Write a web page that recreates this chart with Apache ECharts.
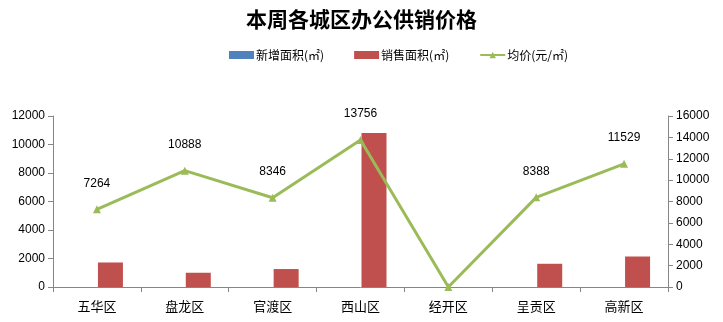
<!DOCTYPE html>
<html>
<head>
<meta charset="utf-8">
<script src="https://cdn.jsdelivr.net/npm/echarts@6/dist/echarts.min.js"></script>
<style>html,body{margin:0;padding:0;background:#fff}#c{width:723px;height:322px}</style>
</head>
<body>
<div id="c"></div>
<script>
const categories = ['五华区','盘龙区','官渡区','西山区','经开区','呈贡区','高新区'];
const newArea = [0, 0, 0, 0, 0, 0, 0];
const soldArea = [1720, 1000, 1260, 10800, 0, 1630, 2140];
const avgPrice = [7264, 10888, 8346, 13756, 0, 8388, 11529];
const leftTicks = {min: 0, max: 12000, interval: 2000};
const rightTicks = {min: 0, max: 16000, interval: 2000};

const font = '"Noto Sans CJK SC", "Liberation Sans", sans-serif';
const numFont = '"Liberation Sans", "DejaVu Sans", sans-serif';
const axisGray = '#868686';

const chart = echarts.init(document.getElementById('c'), null, {renderer: 'canvas'});
chart.setOption({
  animation: false,
  backgroundColor: '#fff',
  title: {
    text: '本周各城区办公供销价格',
    left: 'center',
    top: 4,
    textStyle: {fontFamily: font, fontSize: 21, fontWeight: 'bold', color: '#000'}
  },
  legend: {
    left: 224,
    top: 44,
    itemWidth: 25,
    itemHeight: 8,
    itemGap: 30,
    textStyle: {fontFamily: font, fontSize: 12, color: '#000', padding: [0,0,0,-3]},
    data: [
      {name: '新增面积(㎡)', icon: 'rect'},
      {name: '销售面积(㎡)', icon: 'rect'},
      {name: '均价(元/㎡)'}
    ]
  },
  grid: {left: 53, right: 55, top: 116, bottom: 35},
  xAxis: {
    type: 'category',
    data: categories,
    axisLine: {lineStyle: {color: axisGray, width: 1}},
    axisTick: {show: true, interval: 0, length: 5, lineStyle: {color: axisGray}},
    axisLabel: {fontFamily: font, fontSize: 13, color: '#000', margin: 13}
  },
  yAxis: [
    {
      type: 'value', position: 'left',
      min: leftTicks.min, max: leftTicks.max, interval: leftTicks.interval,
      axisLine: {show: true, lineStyle: {color: axisGray}},
      axisTick: {show: true, length: 5, lineStyle: {color: axisGray}},
      splitLine: {show: false},
      axisLabel: {fontFamily: numFont, fontSize: 12, color: '#000', margin: 8, formatter: v => String(v)}
    },
    {
      type: 'value', position: 'right',
      min: rightTicks.min, max: rightTicks.max, interval: rightTicks.interval,
      axisLine: {show: true, lineStyle: {color: axisGray}},
      axisTick: {show: true, length: 5, lineStyle: {color: axisGray}},
      splitLine: {show: false},
      axisLabel: {fontFamily: numFont, fontSize: 12, color: '#000', margin: 8, formatter: v => String(v)}
    }
  ],
  series: [
    {
      name: '新增面积(㎡)', type: 'bar', yAxisIndex: 0,
      data: newArea, barWidth: 25, barGap: '8%',
      itemStyle: {color: '#4F81BD'}
    },
    {
      name: '销售面积(㎡)', type: 'bar', yAxisIndex: 0,
      data: soldArea, barWidth: 25, barGap: '8%',
      itemStyle: {color: '#C0504D'}
    },
    {
      name: '均价(元/㎡)', type: 'line', yAxisIndex: 1,
      data: avgPrice,
      symbol: 'triangle', symbolSize: 8,
      lineStyle: {color: '#9BBB59', width: 3},
      itemStyle: {color: '#9BBB59'},
      label: {
        show: true, position: 'top', distance: 16,
        fontFamily: numFont, fontSize: 12, color: '#000',
        formatter: p => p.value === 0 ? '' : String(p.value)
      },
      z: 5
    }
  ]
});
</script>
</body>
</html>
